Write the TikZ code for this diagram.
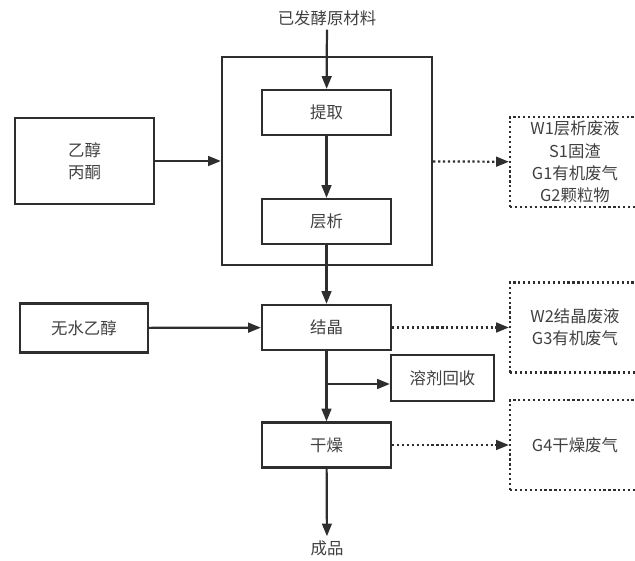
\documentclass[tikz,border=0pt]{standalone}
\usepackage{fontspec}
\newfontfamily\cjk{Noto Sans CJK SC}
\usetikzlibrary{arrows.meta,positioning}
\definecolor{ink}{HTML}{2E2E2E}
\definecolor{txt}{HTML}{404040}
\tikzset{
  >={Triangle[length=3.8mm,width=2.9mm]},
  txtfont/.style={font=\cjk\fontsize{14}{19}\selectfont, text=txt},
  proc/.style={rectangle, draw=ink, line width=1.9pt, minimum width=3.87cm, minimum height=1.35cm, txtfont, align=center},
  waste/.style={rectangle, draw=ink, line width=1.9pt, dash pattern=on 1.9pt off 2.3pt, minimum width=3.9cm, minimum height=2.7cm, txtfont, align=center},
  lbl/.style={txtfont},
  flow/.style={->, draw=ink, line width=1.9pt},
  dflow/.style={->, draw=ink, line width=1.9pt, dash pattern=on 1.9pt off 2.3pt}
}
\begin{document}
\begin{tikzpicture}[x=0.03cm, y=-0.03cm]
    \useasboundingbox (0,0) rectangle (635,561);
    \clip (0,0) rectangle (635,561);

    % === Extraction unit ===
    \node[rectangle, draw=ink, line width=1.9pt, minimum width=6.3cm, minimum height=6.24cm] (unit) at (327,161) {};
    \node[lbl] (feed) at (327,18) {已发酵原材料};
    \node[proc] (extract) at (326.5,112.5) {提取};
    \node[proc] (chrom) at (326.5,221.5) {层析};
    \node[proc, minimum width=4.17cm, minimum height=2.58cm] (solv) at (84.5,161) {乙醇\\丙酮};
    \node[waste] (waste1) at (575,162) {W1层析废液\\S1固渣\\G1有机废气\\G2颗粒物};

    \draw[flow] (feed) -- (extract);
    \draw[flow] (extract) -- (chrom);
    \draw[flow] (solv) -- (unit);
    \draw[dflow] (unit) -- (waste1);

    % === Crystallisation and drying ===
    \node[proc] (cryst) at (326.5,327.5) {结晶};
    \node[proc, minimum width=3.84cm, minimum height=1.47cm] (ethanol) at (84,328) {无水乙醇};
    \node[proc, minimum width=3.09cm, minimum height=1.38cm] (recov) at (442.5,378) {溶剂回收};
    \node[proc] (dry) at (326.5,445) {干燥};
    \node[lbl] (prod) at (327,548) {成品};
    \node[waste] (waste2) at (575,327.5) {W2结晶废液\\G3有机废气};
    \node[waste] (waste3) at (575,445) {G4干燥废气};

    \draw[flow] (chrom) -- (cryst);
    \draw[flow] (ethanol) -- (cryst);
    \draw[dflow] (cryst) -- (waste2);
    \draw[flow] (cryst) -- (dry);
    \coordinate (split) at (326.5,384);
    \draw[flow] (split) -- (split -| recov.west);
    \draw[dflow] (dry) -- (waste3);
    \draw[flow] (dry) -- (prod);

\end{tikzpicture}
\end{document}
